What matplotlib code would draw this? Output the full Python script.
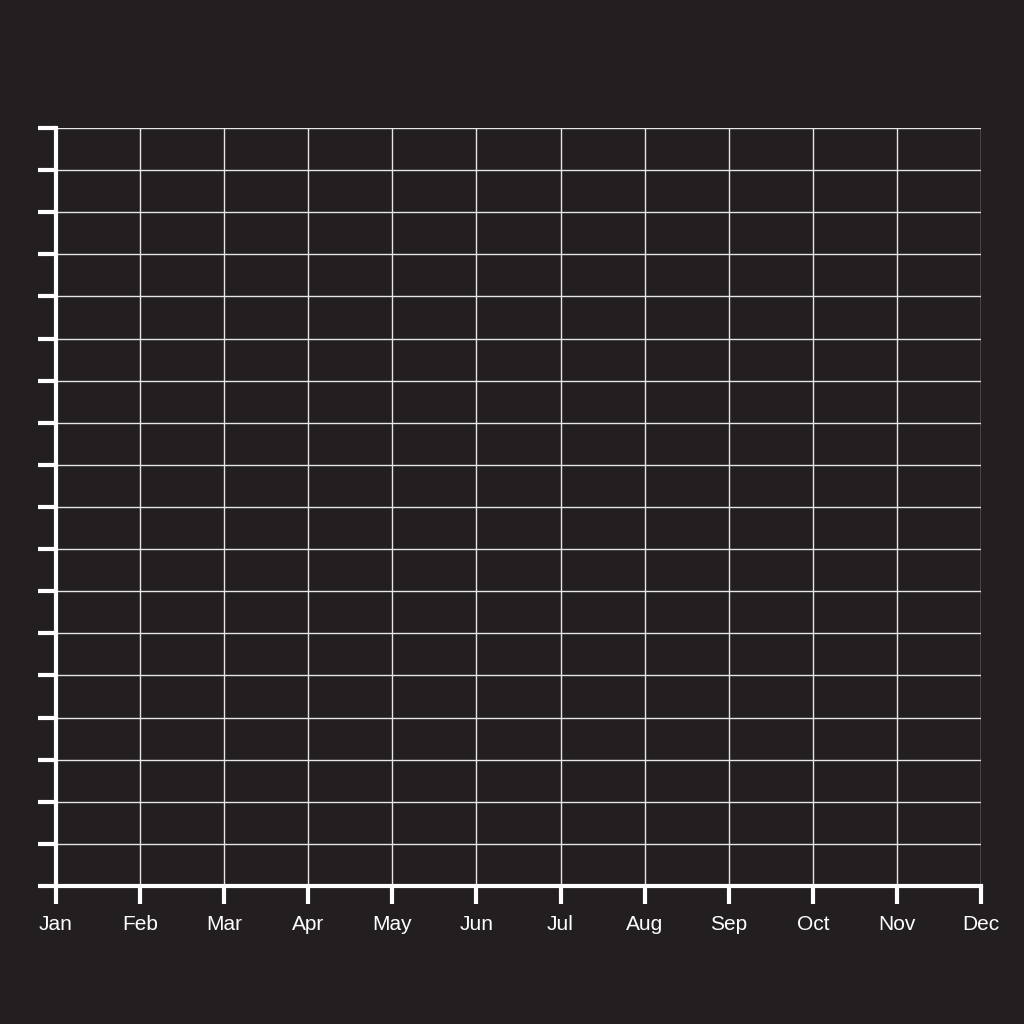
import matplotlib.pyplot as plt
import numpy as np

# etykiety osi x i liczba poziomów siatki
miesiace = ['Jan', 'Feb', 'Mar', 'Apr', 'May', 'Jun',
            'Jul', 'Aug', 'Sep', 'Oct', 'Nov', 'Dec']
poziomy_y = list(range(0, 19))

tlo = '#231f20'
plt.rcParams['font.family'] = ['Liberation Sans', 'DejaVu Sans']

fig = plt.figure(figsize=(10.24, 10.24), dpi=100, facecolor=tlo)
ax = fig.add_axes([56/1024, 138/1024, 925/1024, 758/1024])
ax.set_facecolor(tlo)

x = np.arange(len(miesiace))
ax.set_xlim(x[0], x[-1])
ax.set_ylim(poziomy_y[0], poziomy_y[-1])
ax.set_xticks(x)
ax.set_xticklabels(miesiace)
ax.set_yticks(poziomy_y)
ax.set_yticklabels([])

ax.grid(True, color='#e6e6e6', linewidth=1.0)
ax.set_axisbelow(True)

for s in ['top', 'right']:
    ax.spines[s].set_visible(False)
for s in ['left', 'bottom']:
    ax.spines[s].set_color('white')
    ax.spines[s].set_linewidth(3)

ax.tick_params(axis='both', colors='white', width=3, length=13,
               direction='out')
ax.tick_params(axis='x', labelsize=15, pad=8, labelcolor='white')
for t in ax.get_xticklabels():
    t.set_fontweight('medium')

plt.savefig('out.png', dpi=100, facecolor=tlo)
